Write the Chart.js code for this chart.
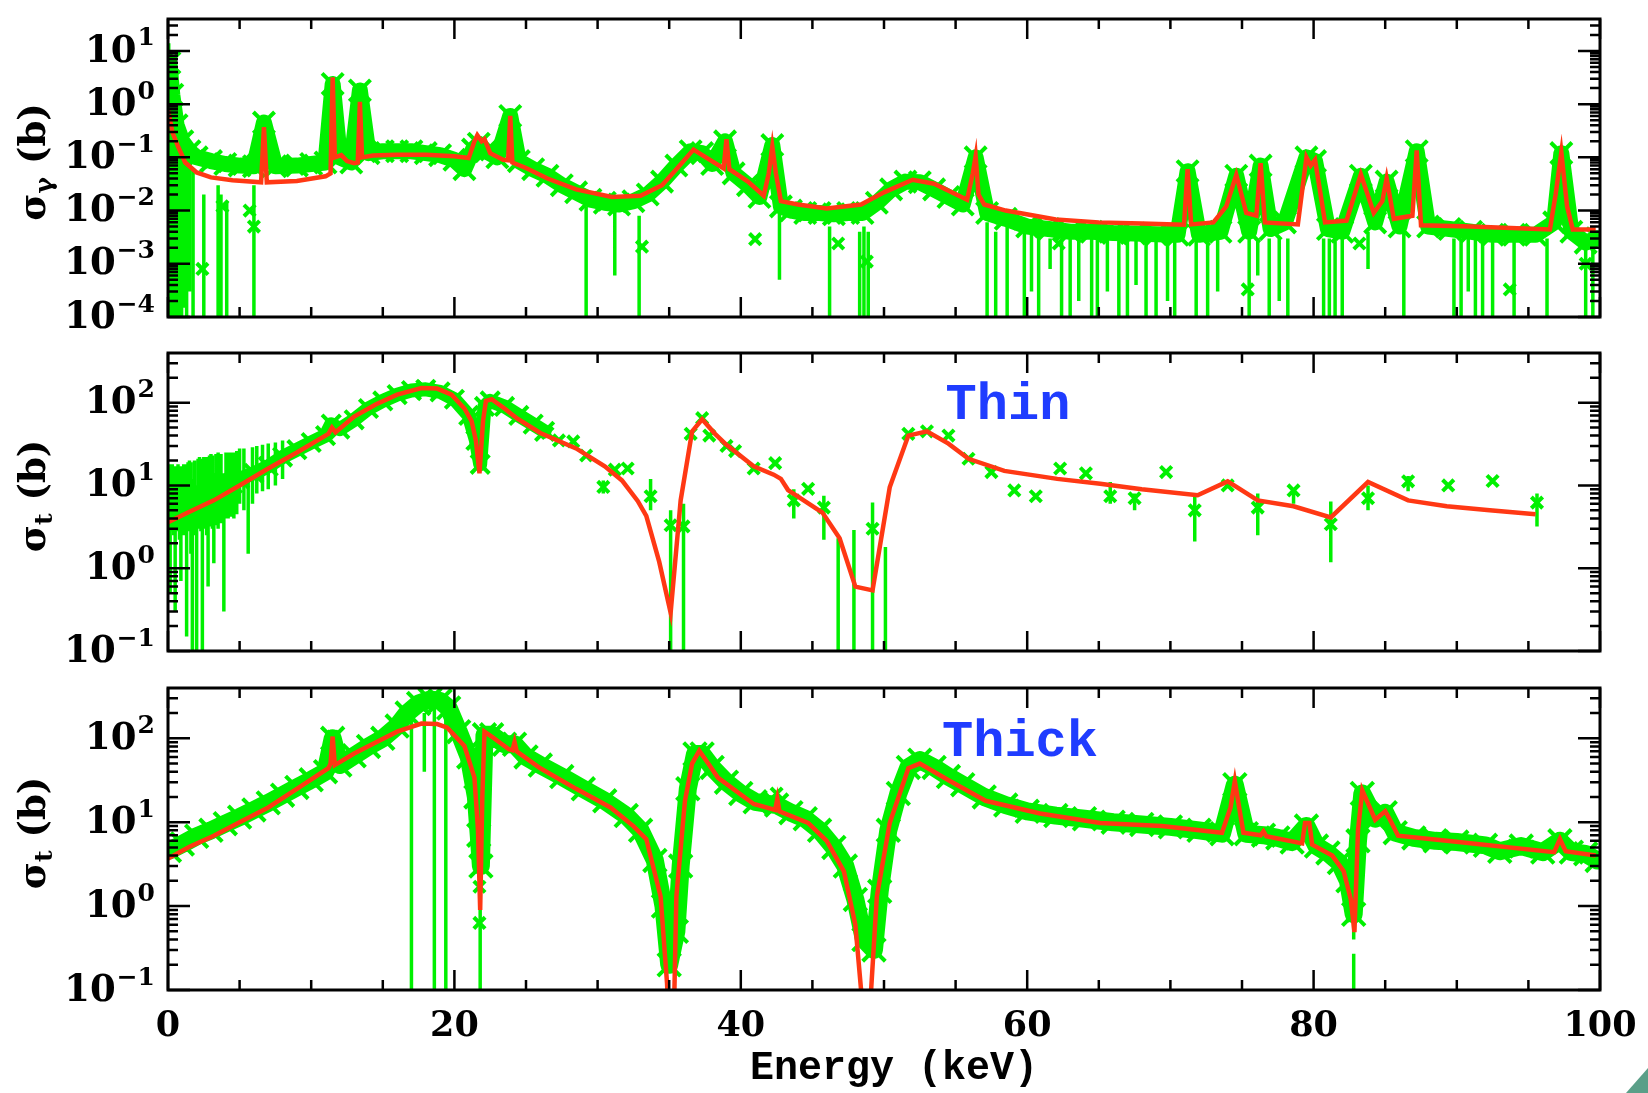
<!DOCTYPE html>
<html>
<head>
<meta charset="utf-8">
<script src="https://cdn.jsdelivr.net/npm/chart.js@4.4.0/dist/chart.umd.min.js"></script>
<style>
    body { margin: 0; background: #fff; width: 1648px; height: 1093px; overflow: hidden; position: relative; }
    canvas { position: absolute; left: 0; }
    #corner { position: absolute; right: 0; bottom: 0; width: 22px; height: 25px; background: #5a9f88; clip-path: polygon(100% 0, 100% 100%, 0 100%); }
</style>
</head>
<body>
<canvas id="capture" width="1648" height="336" style="top:0"></canvas>
<canvas id="thin" width="1648" height="332" style="top:336px"></canvas>
<canvas id="thick" width="1648" height="425" style="top:668px"></canvas>
<div id="corner"></div>
<script>
"use strict";

// tick labels
var xTicks = [0, 20, 40, 60, 80, 100];
var yDec1 = [-4, -3, -2, -1, 0, 1];
var yDec23 = [-1, 0, 1, 2];

// panel 1 : capture cross section, fit
var fit1E = [0, 0.3, 0.7, 1.2, 2, 3, 4.5, 6.5, 6.7, 6.9, 9, 11, 11.35, 11.5, 11.65, 12.1, 12.5, 13.0, 13.25, 13.4, 13.55, 14.3, 16, 18, 20, 21.0, 21.4, 21.6, 21.9, 22.1, 22.5, 23.4, 23.75, 23.9, 24.05, 25, 26.5, 28.5, 31, 33, 34.5, 35.5, 36.7, 37.7, 38.8, 39.0, 39.2, 40.5, 41.6, 41.95, 42.2, 42.45, 42.8, 44, 46, 48.4, 50, 52, 53.5, 55.8, 56.2, 56.4, 56.6, 57, 58.5, 62, 65, 68, 70.95, 71.2, 71.45, 73, 73.9, 74.6, 75.3, 76.0, 76.3, 76.6, 78.9, 79.5, 79.8, 80.1, 80.8, 82.3, 83.3, 84.2, 84.8, 85.1, 85.6, 86.9, 87.2, 87.5, 91, 96.5, 96.9, 97.3, 97.7, 98.1, 99.7];
var fit1S = [0.8, 0.3, 0.16, 0.08, 0.052, 0.042, 0.037, 0.034, 0.37, 0.034, 0.036, 0.044, 0.05, 3.2, 0.1, 0.11, 0.085, 0.078, 0.08, 1.1, 0.1, 0.108, 0.112, 0.112, 0.105, 0.097, 0.2, 0.26, 0.2, 0.22, 0.12, 0.09, 0.088, 0.6, 0.08, 0.063, 0.04, 0.025, 0.018, 0.019, 0.03, 0.06, 0.14, 0.095, 0.062, 0.22, 0.06, 0.035, 0.019, 0.05, 0.16, 0.05, 0.015, 0.013, 0.011, 0.013, 0.022, 0.038, 0.032, 0.016, 0.05, 0.105, 0.02, 0.013, 0.01, 0.0068, 0.006, 0.0057, 0.0054, 0.06, 0.0055, 0.006, 0.012, 0.047, 0.009, 0.008, 0.078, 0.006, 0.0055, 0.1, 0.07, 0.09, 0.006, 0.0065, 0.048, 0.009, 0.015, 0.04, 0.007, 0.008, 0.135, 0.0053, 0.005, 0.0044, 0.02, 0.125, 0.012, 0.0044, 0.0044];

// panel 1 : measured points (band)
var g1E = [0.1, 0.3, 0.6, 1.0, 1.5, 2, 3, 4, 5, 6, 6.7, 7.5, 9, 10, 11, 11.5, 12, 12.8, 13.4, 14, 15, 16, 17, 18, 19, 20, 20.7, 21.3, 21.7, 22.2, 23, 23.9, 24.5, 25.5, 26.5, 27.5, 28.5, 29.5, 30.5, 31.5, 32.5, 33.5, 34.5, 35.5, 36.5, 37.3, 38, 38.9, 39.5, 40.5, 41.3, 42.2, 42.8, 43.5, 44.5, 45.5, 46.5, 47.5, 48.5, 49.5, 50.5, 51.5, 52.5, 53.5, 54.5, 55.5, 56.4, 57.2, 58.5, 60, 61.5, 63, 64.5, 66, 67.5, 69, 70.5, 71.2, 72, 73.5, 74.6, 75.5, 76.3, 77, 78, 79.5, 80.1, 81, 82, 83.3, 84.3, 85.1, 86, 87.2, 88, 89.5, 91, 92.5, 94, 95.5, 96.8, 97.3, 98, 99, 99.8];
var g1S = [6, 1.5, 0.4, 0.2, 0.13, 0.1, 0.085, 0.075, 0.07, 0.068, 0.45, 0.068, 0.07, 0.075, 0.08, 2.4, 0.1, 0.08, 1.8, 0.12, 0.13, 0.13, 0.13, 0.12, 0.11, 0.09, 0.06, 0.14, 0.18, 0.13, 0.1, 0.6, 0.085, 0.06, 0.045, 0.03, 0.022, 0.016, 0.014, 0.013, 0.015, 0.02, 0.035, 0.07, 0.13, 0.12, 0.075, 0.2, 0.05, 0.03, 0.018, 0.17, 0.012, 0.01, 0.009, 0.009, 0.0085, 0.009, 0.009, 0.014, 0.025, 0.035, 0.034, 0.025, 0.018, 0.013, 0.1, 0.009, 0.007, 0.005, 0.0045, 0.004, 0.004, 0.0038, 0.0037, 0.0036, 0.0035, 0.055, 0.0035, 0.004, 0.045, 0.004, 0.07, 0.0045, 0.006, 0.1, 0.085, 0.0045, 0.004, 0.045, 0.006, 0.035, 0.005, 0.13, 0.005, 0.0045, 0.004, 0.0035, 0.0035, 0.0035, 0.006, 0.12, 0.004, 0.0025, 0.003];

// panel 1 : single low points and error bars
var o1E = [2.4, 3.8, 5.7, 6.0, 33.1, 41.0, 46.8, 48.8, 62.2, 75.4, 83.2, 93.7, 99.0];
var o1S = [8e-4, 0.012, 0.01, 0.005, 0.0021, 0.0029, 0.0024, 0.0011, 0.0024, 3.3e-4, 0.0024, 3.3e-4, 0.001];
var err1E = [0.05, 0.2, 0.35, 0.5, 0.65, 0.8, 0.95, 1.1, 1.3, 1.5, 1.75, 2.5, 3.5, 3.7, 4.1, 6.0, 29.2, 31.2, 32.9, 42.7, 46.2, 48.3, 48.6, 48.9, 57.2, 57.8, 58.6, 59.8, 60.3, 60.8, 61.6, 62.4, 63.0, 63.6, 64.5, 64.9, 65.6, 66.4, 67.0, 67.6, 68.3, 69.0, 69.8, 70.3, 71.8, 72.6, 73.3, 75.5, 76.1, 76.9, 77.6, 78.2, 80.7, 81.1, 81.5, 82.0, 83.8, 86.3, 89.8, 90.3, 90.8, 91.3, 91.8, 92.5, 94.0, 96.3, 99.0, 99.5];
var err1Lo = [1e-5, 1e-5, 1e-5, 1e-5, 1e-5, 1e-5, 1e-5, 1.5e-4, 1e-5, 3e-4, 1e-5, 1e-5, 1e-5, 1e-5, 1e-5, 1e-5, 1e-5, 6e-4, 1e-5, 5e-4, 1e-5, 1e-5, 1e-5, 1e-5, 1e-5, 1e-5, 1e-5, 1e-5, 3e-4, 1e-5, 8e-4, 1e-5, 1e-5, 2e-4, 1e-5, 1e-5, 3e-4, 1e-5, 1e-5, 4e-4, 1e-5, 1e-5, 2e-4, 1e-5, 1e-5, 1e-5, 3e-4, 1e-5, 6e-4, 1e-5, 2e-4, 1e-5, 1e-5, 1e-5, 1e-5, 1e-5, 8e-4, 1e-5, 1e-5, 1e-5, 3e-4, 1e-5, 1e-5, 1e-5, 1e-5, 1e-5, 1e-5, 1e-5];
var err1Hi = [14, 10, 4, 1.5, 0.7, 0.4, 0.3, 0.25, 0.2, 0.18, 0.06, 0.02, 0.03, 0.02, 0.015, 0.03, 0.012, 0.01, 0.008, 0.01, 0.005, 0.004, 0.005, 0.004, 0.006, 0.004, 0.005, 0.004, 0.004, 0.004, 0.003, 0.003, 0.003, 0.003, 0.003, 0.004, 0.003, 0.003, 0.003, 0.003, 0.003, 0.003, 0.003, 0.003, 0.003, 0.003, 0.003, 0.003, 0.003, 0.003, 0.003, 0.003, 0.003, 0.003, 0.003, 0.003, 0.004, 0.004, 0.003, 0.003, 0.003, 0.003, 0.003, 0.003, 0.003, 0.003, 0.002, 0.002];

// panel 2 : thin sample, total cross section
var fit2E = [0, 1.5, 3.2, 5, 7, 9, 11.2, 11.45, 11.7, 13, 14.5, 16, 17.7, 18.8, 19.8, 20.7, 21.2, 21.5, 21.75, 22.0, 22.2, 22.6, 23.5, 24.4, 26, 28.5, 30.5, 31.7, 32.8, 33.4, 34.3, 35.1, 35.8, 36.6, 37.3, 38.2, 39, 40.9, 42.3, 42.8, 43.3, 45.7, 46.9, 48, 49.2, 50.4, 51.7, 53, 54.5, 55.9, 58.4, 62.1, 65.1, 68, 71.9, 74, 76.1, 78.6, 81.2, 83.8, 86.6, 89.3, 92.3, 95.5];
var fit2S = [3.6, 4.8, 6.6, 10, 16, 25, 42, 50, 44, 68, 95, 125, 150, 148, 125, 85, 60, 35, 14, 60, 105, 110, 85, 64, 43, 28, 17, 11.5, 6.5, 4.3, 1.2, 0.29, 6.6, 45, 63, 42, 31, 17, 13.5, 12, 8.8, 4.7, 2.3, 0.6, 0.54, 9.5, 40, 45, 32, 21, 15, 12, 10.5, 9, 7.6, 11.2, 6.6, 5.6, 4.1, 11, 6.6, 5.6, 5, 4.5];
var g2E = [0.1, 0.5, 1, 1.5, 2, 2.5, 3, 3.5, 4, 4.5, 5, 6, 7, 8, 9, 10, 11, 11.4, 12, 13, 14, 15, 16, 17, 18, 19, 20, 21, 21.5, 21.8, 22.1, 22.5, 23.5, 24.5, 25.5, 26.3];
var g2S = [6, 5, 6, 6.5, 7, 7.5, 8, 9, 10, 10.5, 12, 14, 17, 22, 27, 33, 40, 55, 48, 62, 85, 105, 125, 140, 145, 135, 110, 70, 35, 18, 90, 105, 90, 70, 55, 45];
var p2E = [26.5, 27.3, 28.3, 29.2, 30.4, 31.2, 32.1, 33.7, 35.1, 36.0, 36.5, 37.3, 37.8, 39, 39.6, 40.9, 42.4, 43.7, 44.7, 45.8, 49.2, 51.7, 53, 54.5, 55.9, 57.5, 59.1, 60.6, 62.3, 64.1, 65.8, 67.5, 69.7, 71.7, 74, 76.1, 78.6, 81.2, 83.8, 86.6, 89.4, 92.5, 95.6];
var p2S = [43, 35, 34, 23, 9.6, 15.5, 16, 7.4, 3.3, 3.2, 42, 65, 40, 30, 26, 16, 18.6, 6.6, 9.1, 5.4, 3.0, 42, 45, 40, 21, 14.5, 8.7, 7.4, 16, 14, 7.4, 7, 14.5, 5, 10, 5.4, 8.7, 3.4, 7, 11.2, 10, 11.3, 6.2];
var err2E = [0.15, 0.3, 0.4, 0.5, 0.6, 0.7, 0.8, 0.9, 1.0, 1.1, 1.2, 1.3, 1.4, 1.5, 1.6, 1.7, 1.85, 2.0, 2.1, 2.2, 2.3, 2.4, 2.5, 2.6, 2.7, 2.8, 2.9, 3.0, 3.1, 3.2, 3.35, 3.5, 3.7, 3.9, 4.05, 4.2, 4.4, 4.6, 4.8, 5.0, 5.3, 5.6, 5.9, 6.2, 6.6, 7.0, 7.5, 8.0, 30.4, 33.7, 35.1, 36.0, 43.7, 45.8, 46.8, 47.9, 49.2, 50.1, 65.8, 67.5, 71.7, 76.1, 78.6, 81.2, 83.8, 86.6, 95.6];
var err2Lo = [0.5, 2.8, 2.5, 0.3, 3, 2.8, 2.2, 0.7, 3, 2.5, 2.7, 0.15, 3, 2.8, 1.5, 0.01, 2.5, 0.01, 3, 3, 2.8, 0.01, 3.2, 3, 2.5, 0.6, 3.2, 3.5, 3, 1.15, 3.3, 3, 3.5, 0.3, 4, 4, 4.2, 4, 4.5, 6, 5, 1.5, 6, 8, 8.5, 9, 10, 12, 8, 5, 0.01, 0.01, 4, 2.2, 0.01, 0.01, 0.01, 0.01, 6, 5, 2.1, 2.5, 6, 1.18, 5, 8.5, 3.2];
var err2Hi = [18, 18, 17, 16, 17, 18, 17, 15, 17, 18, 18, 14, 19, 20, 19, 12, 20, 10, 21, 22, 21, 12, 22, 22, 22, 12, 23, 24, 23, 14, 24, 25, 24, 14, 25, 25, 25, 25, 26, 28, 28, 15, 29, 30, 31, 32, 33, 35, 11.5, 12, 5, 6, 9, 7.5, 2.3, 2.9, 6.2, 1.8, 11, 8, 7.4, 8, 9, 6.4, 10, 13, 8];

// panel 3 : thick sample, total cross section
var fit3E = [0, 1.5, 3.2, 5, 7, 9, 11.2, 11.35, 11.5, 11.65, 13, 14.5, 16, 17.7, 18.8, 19.5, 20.7, 21.4, 21.65, 21.8, 21.95, 22.1, 22.6, 23.8, 24.05, 24.2, 24.35, 26, 28.5, 30.9, 32.5, 33.4, 34.4, 34.85, 35.0, 35.3, 35.5, 36.1, 36.6, 37.1, 37.8, 38.4, 40.9, 42.4, 42.55, 42.7, 44.7, 46, 47.2, 48.0, 48.4, 48.5, 49.0, 49.1, 49.5, 50.4, 51.7, 52.5, 54.6, 57.1, 60.9, 65.1, 69.4, 73.6, 74.2, 74.5, 74.8, 75.1, 76.3, 76.5, 76.7, 79.2, 79.4, 79.7, 79.9, 81.3, 82.1, 82.6, 82.85, 83.1, 83.4, 84.3, 85, 85.3, 85.9, 89.3, 96.8, 97.2, 97.6, 99.7];
var fit3S = [3.7, 5.1, 6.9, 10, 15, 25, 44, 50, 105, 48, 66, 89, 120, 150, 148, 134, 81, 34, 8, 0.9, 20, 120, 105, 74, 72, 90, 70, 44, 25, 15, 9, 6.3, 1.3, 0.12, 0.03, 0.03, 1.3, 18, 50, 71, 48, 34, 16.5, 14, 19, 13.5, 9.8, 6, 2.6, 0.6, 0.1, 0.03, 0.03, 0.1, 1.3, 9.8, 44, 50, 31, 18, 12.7, 9.8, 9, 7.5, 15, 31, 15, 7.5, 7, 7.8, 6.8, 5.6, 9.8, 9.8, 5.4, 4, 2.6, 1.2, 0.49, 8, 24, 10.7, 13.5, 11, 6.9, 6.0, 4.4, 6.3, 4.5, 4.0];
var g3E = [0.1, 1, 2, 3, 4, 5, 6, 7, 8, 9, 10, 11, 11.5, 12, 13, 14, 15, 16, 16.7, 17.5, 18.3, 19, 19.6, 20.3, 21, 21.5, 21.7, 21.85, 22.1, 22.6, 23.5, 24.2, 25, 26, 27.5, 29, 30.5, 32, 33, 34, 34.6, 35.0, 35.5, 35.8, 36.3, 36.8, 37.3, 38, 39, 40, 41, 42.5, 43.5, 44.5, 45.5, 46.5, 47.3, 48, 48.6, 49.3, 49.7, 50.3, 51, 51.7, 52.5, 53.5, 54.5, 55.5, 57, 58.5, 60, 62, 64, 66, 68, 70, 72, 73.6, 74.5, 75.3, 76.5, 77.5, 78.5, 79.5, 80.2, 81, 81.8, 82.4, 82.8, 83.1, 83.4, 84.3, 85, 85.7, 87, 88.5, 90, 92, 93, 94.5, 96, 97.2, 98, 99, 99.8];
var g3S = [4.6, 5.5, 6.8, 8, 9.6, 11.5, 14, 17, 21, 26, 32, 40, 100, 48, 62, 80, 100, 140, 200, 260, 290, 280, 230, 120, 60, 20, 7, 3, 110, 110, 85, 85, 60, 48, 35, 25, 18, 12, 8, 3.5, 1.0, 0.2, 0.5, 3, 25, 65, 65, 45, 30, 22, 17.5, 16, 13, 11, 8, 5, 3, 1.2, 0.4, 0.3, 1.5, 8, 22, 45, 55, 45, 35, 28, 20, 16, 13.5, 12, 11, 10, 9.4, 8.8, 8, 7.3, 28, 7.3, 7, 6.5, 5.8, 9, 5.2, 4.3, 3.3, 2, 0.8, 6, 22, 11, 13, 7.5, 6.5, 6, 5.8, 5.3, 4.5, 5.2, 4.4, 6, 4.4, 4.2, 3.5];
var o3E = [11.5, 21.75, 21.75, 21.75, 42.5, 82.75];
var o3S = [105, 4.4, 1.7, 0.63, 22, 0.77];
var err3E = [17.0, 17.9, 18.6, 19.4, 21.8, 82.8, 82.8];
var err3Lo = [0.01, 40, 0.01, 0.01, 0.01, 0.4, 0.01];
var err3Hi = [200, 200, 250, 250, 5, 1.2, 0.27];

var GREEN = "#00f000";
var RED = "#ff3814";
var BLUE = "#1f3cff";
var SERIF = "'DejaVu Serif', serif";
var MONO = "'Liberation Mono', monospace";

function xy(xs, ys) {
    return xs.map(function (x, i) { return { x: x, y: ys[i] }; });
}

function fitSet(xs, ys) {
    return { data: xy(xs, ys), borderColor: RED, borderWidth: 4.5, pointRadius: 0, tension: 0, order: 0, clip: 0 };
}

// the measured points: a green line through them, with big crosses that stick out
function bandSet(xs, ys, width, radius) {
    return {
        data: xy(xs, ys), borderColor: GREEN, borderWidth: width, borderJoinStyle: "round", borderCapStyle: "round",
        pointStyle: "crossRot", pointRadius: radius, pointBorderColor: GREEN, pointBorderWidth: 4, tension: 0, order: 1, clip: 0
    };
}

function pointSet(xs, ys) {
    return {
        data: xy(xs, ys), showLine: false, pointStyle: "crossRot", pointRadius: 8,
        pointBorderColor: GREEN, pointBorderWidth: 4, order: 2, clip: 0
    };
}

// "10" with an exponent, right aligned on x
function drawPow(ctx, x, y, p) {
    var e = p < 0 ? "\u2212" + (-p) : String(p);
    ctx.textAlign = "right";
    ctx.textBaseline = "middle";
    ctx.font = "bold 25px " + SERIF;
    var ew = ctx.measureText(e).width;
    ctx.fillText(e, x, y - 12);
    ctx.font = "bold 37px " + SERIF;
    ctx.fillText("10", x - ew - 1, y + 1);
}

function drawTitle(ctx, cx, cy, sub) {
    ctx.save();
    ctx.translate(cx, cy);
    ctx.rotate(-Math.PI / 2);
    ctx.textAlign = "left";
    ctx.textBaseline = "middle";
    var big = "bold 37px " + SERIF, small = "bold 25px " + SERIF;
    ctx.font = big;
    var w1 = ctx.measureText("\u03c3").width, w3 = ctx.measureText(" (b)").width;
    ctx.font = small;
    var w2 = ctx.measureText(sub).width;
    var x0 = -(w1 + w2 + w3) / 2;
    ctx.font = big;
    ctx.fillText("\u03c3", x0, 0);
    ctx.font = small;
    ctx.fillText(sub, x0 + w1, 10);
    ctx.font = big;
    ctx.fillText(" (b)", x0 + w1 + w2, 0);
    ctx.restore();
}

function panelPlugin(p) {
    return {
        id: "panel",
        beforeDatasetsDraw: function (chart) {
            var ctx = chart.ctx, a = chart.chartArea, xs = chart.scales.x, ys = chart.scales.y;
            ctx.save();
            ctx.beginPath();
            ctx.rect(a.left, a.top, a.right - a.left, a.bottom - a.top);
            ctx.clip();
            ctx.strokeStyle = GREEN;
            ctx.lineWidth = 3.5;
            ctx.beginPath();
            p.errE.forEach(function (e, i) {
                var px = xs.getPixelForValue(e);
                ctx.moveTo(px, ys.getPixelForValue(p.errLo[i]));
                ctx.lineTo(px, ys.getPixelForValue(p.errHi[i]));
            });
            ctx.stroke();
            ctx.restore();
        },
        afterDraw: function (chart) {
            var ctx = chart.ctx, a = chart.chartArea, xs = chart.scales.x, ys = chart.scales.y;
            ctx.save();
            ctx.strokeStyle = "#000";
            ctx.fillStyle = "#000";
            ctx.lineWidth = 2.5;
            ctx.beginPath();
            for (var v = 0; v <= 100; v += 5) {
                var px = xs.getPixelForValue(v), len = v % 20 === 0 ? 20 : 10;
                ctx.moveTo(px, a.bottom); ctx.lineTo(px, a.bottom - len);
                ctx.moveTo(px, a.top); ctx.lineTo(px, a.top + len);
            }
            var d0 = Math.floor(Math.log10(p.yMin)), d1 = Math.ceil(Math.log10(p.yMax));
            for (var d = d0; d <= d1; d++) {
                for (var m = 1; m < 10; m++) {
                    var val = m * Math.pow(10, d);
                    if (val < p.yMin * 0.999 || val > p.yMax * 1.001) continue;
                    var py = ys.getPixelForValue(val), l = m === 1 ? 22 : 10;
                    ctx.moveTo(a.left, py); ctx.lineTo(a.left + l, py);
                    ctx.moveTo(a.right, py); ctx.lineTo(a.right - l, py);
                }
            }
            ctx.stroke();
            ctx.lineWidth = 3;
            ctx.strokeRect(a.left, a.top, a.right - a.left, a.bottom - a.top);

            p.yDec.forEach(function (dd) {
                drawPow(ctx, a.left - 13, ys.getPixelForValue(Math.pow(10, dd)), dd);
            });
            drawTitle(ctx, 35, (a.top + a.bottom) / 2 - 6, p.sub);

            if (p.note) {
                ctx.fillStyle = BLUE;
                ctx.font = "bold 52px " + MONO;
                ctx.textAlign = "left";
                ctx.textBaseline = "alphabetic";
                ctx.fillText(p.note.text, xs.getPixelForValue(p.note.x), ys.getPixelForValue(p.note.y));
            }
            if (p.showX) {
                ctx.fillStyle = "#000";
                ctx.font = "bold 35px " + SERIF;
                ctx.textAlign = "center";
                ctx.textBaseline = "middle";
                xTicks.forEach(function (t) {
                    ctx.fillText(String(t), xs.getPixelForValue(t), a.bottom + 37);
                });
                ctx.font = "bold 40px " + MONO;
                ctx.textBaseline = "alphabetic";
                ctx.fillText("Energy (keV)", xs.getPixelForValue(50.7), a.bottom + 89);
            }
            ctx.restore();
        }
    };
}

function makeChart(id, p) {
    return new Chart(document.getElementById(id), {
        type: "line",
        data: { datasets: p.sets },
        options: {
            responsive: false,
            animation: false,
            events: [],
            layout: { padding: p.pad },
            plugins: { legend: { display: false }, tooltip: { enabled: false } },
            scales: {
                x: { type: "linear", min: 0, max: 100, display: false },
                y: { type: "logarithmic", min: p.yMin, max: p.yMax, display: false }
            }
        },
        plugins: [panelPlugin(p)]
    });
}

makeChart("capture", {
    sets: [fitSet(fit1E, fit1S), bandSet(g1E, g1S, 16, 15), pointSet(o1E, o1S)],
    pad: { left: 168, right: 48, top: 8, bottom: 15 },
    yMin: 1e-4, yMax: 39.8, yDec: yDec1, sub: "\u03b3",
    errE: err1E, errLo: err1Lo, errHi: err1Hi
});

makeChart("thin", {
    sets: [fitSet(fit2E, fit2S), bandSet(g2E, g2S, 14, 13), pointSet(p2E, p2S)],
    pad: { left: 168, right: 48, top: 7, bottom: 13 },
    yMin: 0.1, yMax: 398, yDec: yDec23, sub: "t",
    errE: err2E, errLo: err2Lo, errHi: err2Hi,
    note: { text: "Thin", x: 54.3, y: 63 }
});

makeChart("thick", {
    sets: [fitSet(fit3E, fit3S), bandSet(g3E, g3S, 18, 16), pointSet(o3E, o3S)],
    pad: { left: 168, right: 48, top: 8, bottom: 103 },
    yMin: 0.1, yMax: 398, yDec: yDec23, sub: "t",
    errE: err3E, errLo: err3Lo, errHi: err3Hi,
    note: { text: "Thick", x: 54.05, y: 62 },
    showX: true
});
</script>
</body>
</html>
